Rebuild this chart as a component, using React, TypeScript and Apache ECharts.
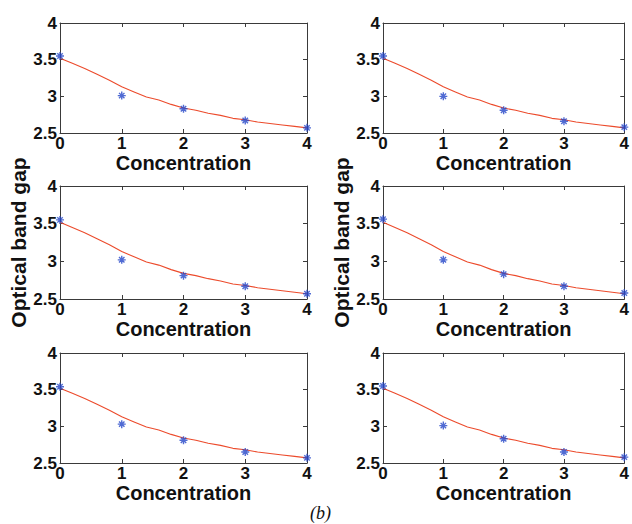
import React, { useEffect, useRef } from "react";
import * as echarts from "echarts";

const xTicks = [0, 1, 2, 3, 4];

// measured points (x = 0..4) per panel: TL, TR, ML, MR, BL, BR
const pointsTL = [3.55, 3.01, 2.83, 2.67, 2.57];
const pointsTR = [3.55, 3.0, 2.81, 2.66, 2.58];
const pointsML = [3.55, 3.02, 2.81, 2.67, 2.57];
const pointsMR = [3.56, 3.02, 2.83, 2.67, 2.58];
const pointsBL = [3.54, 3.03, 2.81, 2.65, 2.57];
const pointsBR = [3.55, 3.01, 2.83, 2.65, 2.58];

// fitted curve
const curveX = [0, 0.2, 0.4, 0.6, 0.8, 1, 1.2, 1.4, 1.6, 1.8, 2, 2.2, 2.4, 2.6, 2.8, 3, 3.2, 3.4, 3.6, 3.8, 4];
const curveY = [3.52, 3.45, 3.38, 3.3, 3.22, 3.13, 3.06, 2.99, 2.95, 2.89, 2.84, 2.81, 2.77, 2.74, 2.7, 2.68, 2.65, 2.63, 2.61, 2.59, 2.57];

const xName = "Concentration";
const yName = "Optical band gap";
const caption = "(b)";

const panels = [
  { pts: pointsTL, left: 60, top: 23, height: 110, row: 0 },
  { pts: pointsTR, left: 383, top: 23, height: 110, row: 0 },
  { pts: pointsML, left: 60, top: 186, height: 113, row: 1 },
  { pts: pointsMR, left: 383, top: 186, height: 113, row: 1 },
  { pts: pointsBL, left: 60, top: 353, height: 110, row: 2 },
  { pts: pointsBR, left: 383, top: 353, height: 110, row: 2 },
];

const PANEL_W = 247;
const FONT = "'Liberation Sans', Arial, Helvetica, sans-serif";
const AXIS_COLOR = "#3a3a3a";
const ASTERISK = "path://M0 5 L10 5 M5 0 L5 10 M1.6 1.6 L8.4 8.4 M8.4 1.6 L1.6 8.4";

export default function App() {
  const ref = useRef<HTMLDivElement>(null);
  useEffect(() => {
    if (!ref.current) return;
    const chart = echarts.init(ref.current, null, { renderer: "svg" });
    const grid: any[] = [];
    const xAxis: any[] = [];
    const yAxis: any[] = [];
    const series: any[] = [];
    const curve = curveX.map((x, i) => [x, curveY[i]]);
    panels.forEach((p, i) => {
      grid.push({ left: p.left, top: p.top, width: PANEL_W, height: p.height, show: false });
      const baseX = {
        gridIndex: i,
        type: "value",
        min: 0,
        max: 4,
        interval: 1,
        splitLine: { show: false },
        axisLine: { show: true, onZero: false, lineStyle: { color: AXIS_COLOR, width: 1 } },
        axisTick: { show: true, inside: true, length: 4, lineStyle: { color: AXIS_COLOR } },
      };
      const baseY = {
        gridIndex: i,
        type: "value",
        min: 2.5,
        max: 4,
        interval: 0.5,
        splitLine: { show: false },
        axisLine: { show: true, onZero: false, lineStyle: { color: AXIS_COLOR, width: 1 } },
        axisTick: { show: true, inside: true, length: 4, lineStyle: { color: AXIS_COLOR } },
      };
      xAxis.push({
        ...baseX,
        position: "bottom",
        name: xName,
        nameLocation: "middle",
        nameGap: 14,
        nameTextStyle: { fontFamily: FONT, fontWeight: "bold", fontSize: 20, color: "#111" },
        axisLabel: { fontFamily: FONT, fontWeight: "bold", fontSize: 17, color: "#111", margin: 3, lineHeight: 15 },
      });
      xAxis.push({ ...baseX, position: "top", axisLabel: { show: false } });
      yAxis.push({
        ...baseY,
        position: "left",
        name: p.row === 1 ? yName : "",
        nameLocation: "middle",
        nameRotate: 90,
        nameGap: 25,
        nameTextStyle: { fontFamily: FONT, fontWeight: "bold", fontSize: 21, color: "#111" },
        axisLabel: { fontFamily: FONT, fontWeight: "bold", fontSize: 17, color: "#111", margin: 3, lineHeight: 13 },
      });
      yAxis.push({ ...baseY, position: "right", axisLabel: { show: false } });
      series.push({
        type: "line",
        xAxisIndex: i * 2,
        yAxisIndex: i * 2,
        data: curve,
        showSymbol: false,
        symbol: "none",
        lineStyle: { color: "#ec4b2c", width: 1.1 },
        silent: true,
        z: 2,
      });
      series.push({
        type: "scatter",
        xAxisIndex: i * 2,
        yAxisIndex: i * 2,
        data: xTicks.map((x, k) => [x, p.pts[k]]),
        symbol: ASTERISK,
        symbolSize: 8,
        itemStyle: { color: "#2446c8", borderColor: "#2446c8", borderWidth: 1.4 },
        z: 3,
      });
    });
    chart.setOption({
      animation: false,
      backgroundColor: "#ffffff",
      grid,
      xAxis,
      yAxis,
      series,
      graphic: [
        {
          type: "text",
          left: 310,
          top: 504,
          style: {
            text: caption,
            fontFamily: "'Liberation Serif', 'DejaVu Serif', serif",
            fontStyle: "italic",
            fontSize: 18,
            fill: "#111",
          },
        },
      ],
    });
    return () => chart.dispose();
  }, []);
  return <div ref={ref} style={{ width: 632, height: 524, position: "absolute", left: 0, top: 0 }} />;
}
